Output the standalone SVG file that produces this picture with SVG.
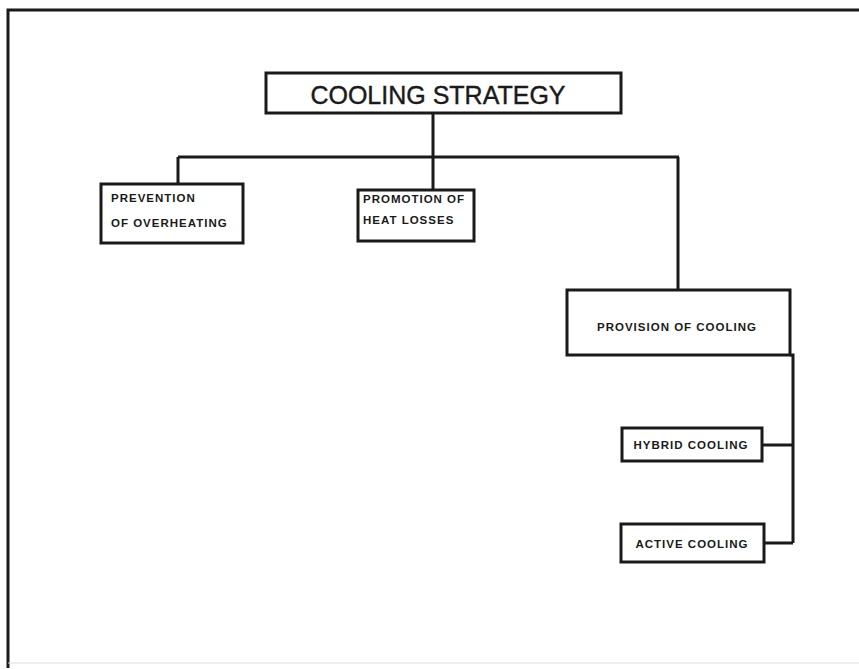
<svg xmlns="http://www.w3.org/2000/svg" width="859" height="669" viewBox="0 0 859 669">
<style>
.box{fill:#fff;stroke:#1a1a1a;stroke-width:3}
.ln{fill:none;stroke:#1a1a1a;stroke-width:3}
.t{font-family:"Liberation Sans",Arial,sans-serif;font-weight:bold;font-size:11.5px;fill:#1a1a1a;letter-spacing:1px}
.title{font-family:"Liberation Sans",Arial,sans-serif;font-size:25px;fill:#1a1a1a;stroke:#1a1a1a;stroke-width:0.4}
</style>
<rect width="859" height="669" fill="#fff"/>
<g id="frame">
<path d="M8 668 V10 H859" class="ln"/>
<path d="M8 663 H859" fill="none" stroke="#ddd" stroke-width="1"/>
</g>
<g id="connectors">
<path class="ln" d="M433 113 V157 M178 157 H679 M178 157 V183 M433 157 V190 M678 157 V290"/>
<path class="ln" d="M790 355 H793 V543 M762 445 H793 M764 543 H793"/>
</g>
<g id="cooling-strategy">
<rect class="box" x="266" y="73" width="355" height="40"/>
<text class="title" x="438" y="104" text-anchor="middle">COOLING STRATEGY</text>
</g>
<g id="prevention">
<rect class="box" x="101" y="184" width="142" height="59"/>
<text class="t" x="111" y="202">PREVENTION</text>
<text class="t" x="111" y="227">OF OVERHEATING</text>
</g>
<g id="promotion">
<rect class="box" x="358" y="190" width="116" height="51"/>
<text class="t" x="363" y="203">PROMOTION OF</text>
<text class="t" x="363" y="224">HEAT LOSSES</text>
</g>
<g id="provision">
<rect class="box" x="567" y="290" width="223" height="65"/>
<text class="t" x="677" y="331" text-anchor="middle">PROVISION OF COOLING</text>
</g>
<g id="hybrid">
<rect class="box" x="622" y="428" width="140" height="33"/>
<text class="t" x="691" y="449" text-anchor="middle">HYBRID COOLING</text>
</g>
<g id="active">
<rect class="box" x="621" y="524" width="143" height="38"/>
<text class="t" x="692" y="548" text-anchor="middle">ACTIVE COOLING</text>
</g>
</svg>
